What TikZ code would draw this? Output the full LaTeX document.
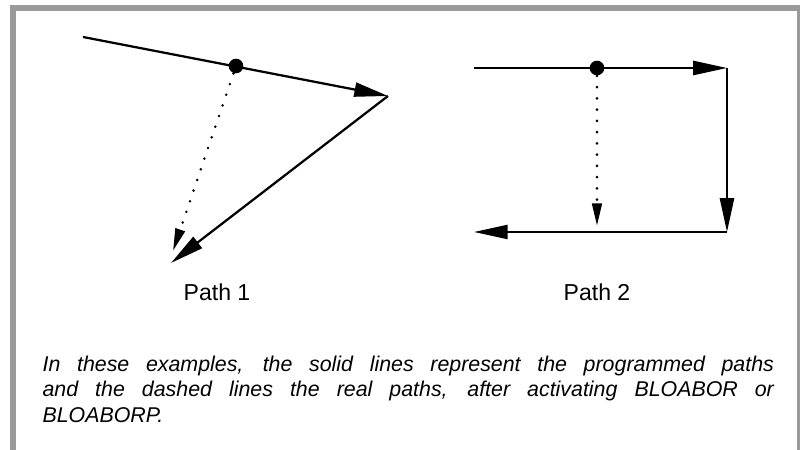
\documentclass[tikz,border=0pt]{standalone}
\usepackage{fontspec}
\setmainfont{Liberation Sans}
\usetikzlibrary{arrows.meta}
\definecolor{framegray}{HTML}{9A9A9A}
\tikzset{
  prog/.style={line width=0.8pt,-{Triangle[length=12pt,width=5pt]}},
  real/.style={line width=1pt,line cap=round,dash pattern=on 0pt off 4pt,
    -{Triangle[length=8pt,width=3.4pt]}},
  brake/.style={circle,fill=black,inner sep=0pt,minimum size=5.2pt},
  pathlab/.style={anchor=base,font=\fontsize{8.2}{9}\selectfont}
}
\begin{document}
\begin{tikzpicture}[x=0.0125cm,y=-0.0125cm]
\useasboundingbox (0,0) rectangle (800,450);
% frame
\fill[framegray] (10,5) rectangle (800,11);
\fill[framegray] (10,5) rectangle (16,450);
\fill[framegray] (797,5) rectangle (800,450);

% path 1
\coordinate (s1) at (83,37);
\coordinate (c1) at (388,96);
\coordinate (e1) at (171,263);
\coordinate (t1) at (173,251);
\node[brake] (d1) at (236,66) {};
\draw[prog] (s1) -- (c1);
\draw[prog] (c1) -- (e1);
\draw[real] (d1) -- (t1);
\node[pathlab] (lab1) at (217,301) {Path 1};

% path 2
\coordinate (s2) at (474,68);
\coordinate (c2) at (727,68);
\coordinate (c3) at (727,232);
\coordinate (e2) at (474,232);
\coordinate (t2) at (597,226);
\node[brake] (d2) at (597,68) {};
\draw[prog] (s2) -- (c2);
\draw[prog] (c2) -- (c3);
\draw[prog] (c3) -- (e2);
\draw[real] (d2) -- (t2);
\node[pathlab] (lab2) at (597,301) {Path 2};

% caption
\node[anchor=north west,inner sep=0pt,text width=9.14cm,align=justify,
  font=\fontsize{7.6}{9.1}\selectfont\itshape] (note) at (42,355)
  {In these examples, the solid lines represent the programmed paths\linebreak
   and the dashed lines the real paths, after activating BLOABOR or\linebreak
   BLOABORP.};
\end{tikzpicture}
\end{document}
